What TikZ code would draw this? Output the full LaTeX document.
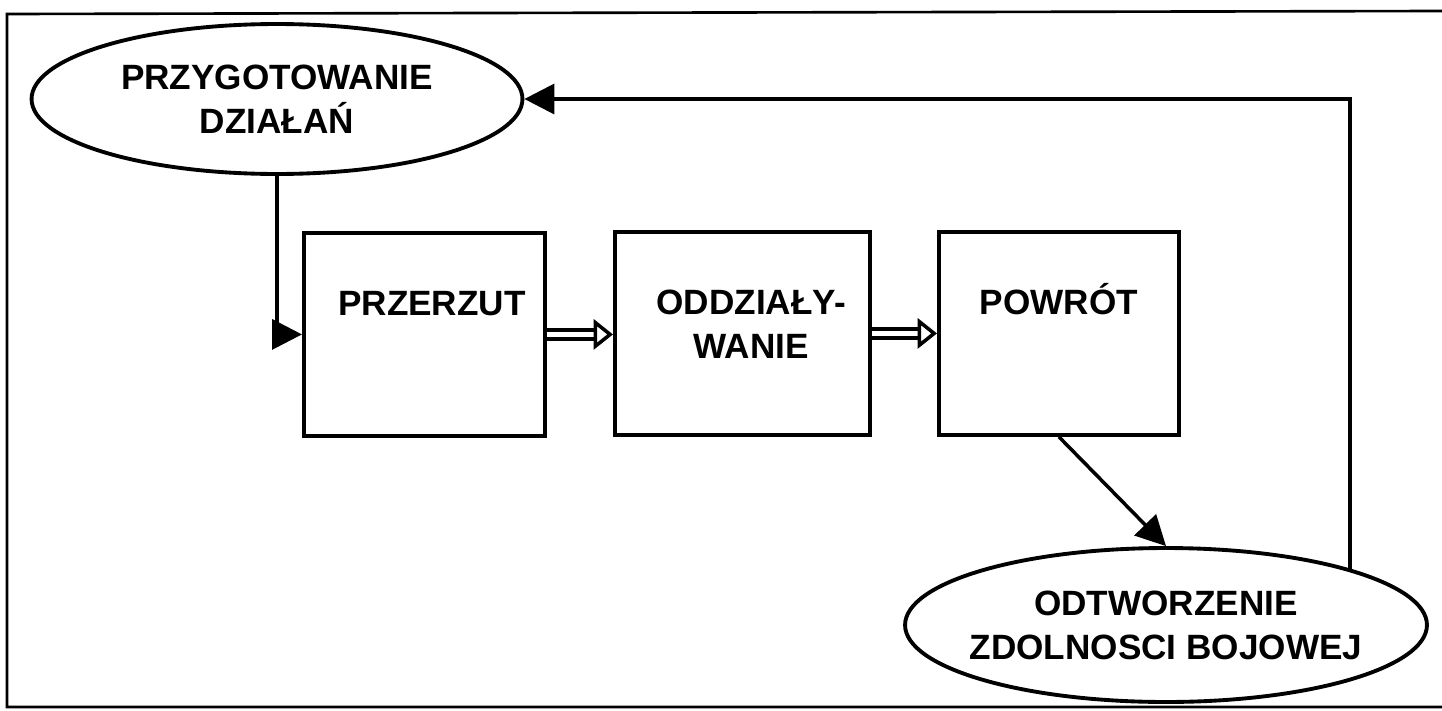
\documentclass[tikz,border=0pt]{standalone}
\usepackage{fontspec}
\setmainfont{Liberation Sans}
\usetikzlibrary{shapes.geometric,arrows.meta,positioning}
\newcommand{\twolines}[2]{\begin{tabular}[t]{@{}c@{}}#1\\#2\end{tabular}}

\begin{document}
\begin{tikzpicture}[x=0.02cm,y=-0.02cm,
		every node/.style={font=\fontsize{20}{25}\selectfont\bfseries},
		phase/.style={draw,ellipse,line width=2.2pt,inner xsep=-0.5cm,inner ysep=0pt,align=center},
		stage/.style={draw,rectangle,line width=2.2pt,inner sep=0pt,anchor=north west,
			minimum width=#1,text height=1.66cm,text depth=2.4cm},
		flow/.style={line width=2pt,-{Triangle[length=17pt,width=17pt]}},
		pass/.style={double,line width=2pt,double distance=3.2pt,
			-{Triangle[open,length=11pt,width=17pt]}}]
	\useasboundingbox (0,0) rectangle (1442,710);
	%\draw[style=help lines,step=100] (0,0) grid (1442,710);
	\draw[line width=1.5pt] (1442,11) -- (7,14) -- (7,707) -- (1442,707);

	\node[phase,minimum width=9.82cm,minimum height=3cm] (prep) at (277,99) {PRZYGOTOWANIE\\DZIAŁAŃ};
	\node[stage=4.82cm] (move) at (302,231) {\hspace*{0.3cm}PRZERZUT};
	\node[stage=5.1cm] (act) at (613,230) {\hspace*{0.35cm}\twolines{ODDZIAŁY-}{WANIE}};
	\node[stage=4.8cm] (back) at (937,230) {POWRÓT};
	\node[phase,minimum width=10.44cm,minimum height=3.08cm] (rest) at (1166,625) {ODTWORZENIE\\ZDOLNOSCI BOJOWEJ};

	\draw[flow] (prep.south) |- (move.west);
	\draw[pass] (move.east) -- (move.east -| act.west);
	\draw[pass] (act.east) -- (act.east -| back.west);
	\draw[flow] (back.south) -- (rest.north);
	\draw[flow] (rest.17) |- (prep.east);
\end{tikzpicture}
\end{document}
